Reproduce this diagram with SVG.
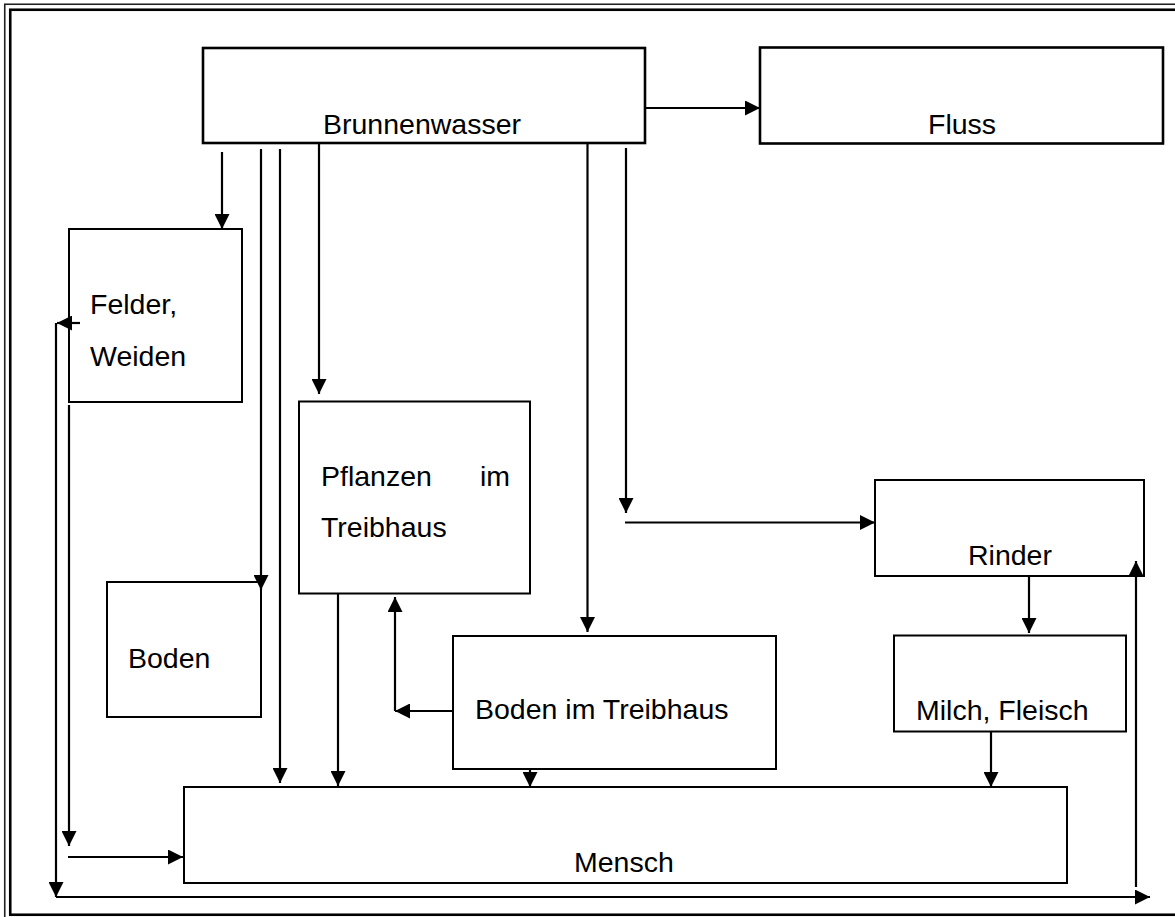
<svg xmlns="http://www.w3.org/2000/svg" width="1175" height="917" viewBox="0 0 1175 917">
<style>
.box{fill:#fff;stroke:#000;stroke-width:2}
.box2{fill:#fff;stroke:#000;stroke-width:2.6}
.t{font-family:"Liberation Sans",Arial,sans-serif;font-size:28.5px;fill:#000}
.c{fill:none;stroke:#000;stroke-width:2.2}
.a{marker-end:url(#ah)}
</style>
<defs>
<marker id="ah" markerUnits="userSpaceOnUse" markerWidth="15" markerHeight="15" viewBox="0 0 15 15" refX="15" refY="7.5" orient="auto">
<path d="M0,0 L15,7.5 L0,15 z" fill="#000"/>
</marker>
</defs>
<rect x="0" y="0" width="1175" height="917" fill="#fff"/>
<g id="frame">
<rect x="4.75" y="4.25" width="1180" height="920" fill="none" stroke="#222" stroke-width="1.6"/>
<rect x="10.25" y="9.75" width="1180" height="905" fill="none" stroke="#000" stroke-width="2.6"/>
</g>
<g id="brunnenwasser">
<rect class="box2" x="203" y="48" width="442" height="95"/>
<text class="t" x="323" y="134">Brunnenwasser</text>
</g>
<g id="fluss">
<rect class="box2" x="760" y="47.5" width="403" height="96"/>
<text class="t" x="928" y="134">Fluss</text>
</g>
<g id="felder">
<rect class="box" x="69" y="229" width="173" height="173"/>
<text class="t" x="90" y="314">Felder,</text>
<text class="t" x="90" y="366">Weiden</text>
</g>
<g id="boden">
<rect class="box" x="107" y="582" width="154" height="135"/>
<text class="t" x="128" y="668">Boden</text>
</g>
<g id="pflanzen">
<rect class="box" x="299" y="401.5" width="231" height="192"/>
<text class="t" x="321" y="486">Pflanzen</text>
<text class="t" x="480" y="486">im</text>
<text class="t" x="321" y="537">Treibhaus</text>
</g>
<g id="bodentreibhaus">
<rect class="box" x="453" y="636" width="323" height="133"/>
<text class="t" x="475" y="719">Boden im Treibhaus</text>
</g>
<g id="rinder">
<rect class="box" x="875" y="480" width="269" height="96"/>
<text class="t" x="968" y="565">Rinder</text>
</g>
<g id="milch">
<rect class="box" x="894" y="635.5" width="232" height="96"/>
<text class="t" x="916" y="720">Milch, Fleisch</text>
</g>
<g id="mensch">
<rect class="box" x="184" y="787" width="883" height="96"/>
<text class="t" x="574" y="872">Mensch</text>
</g>
<g id="connectors">
<path class="c a" d="M645,108 H760"/>
<path class="c a" d="M222,152 V229"/>
<path class="c a" d="M261,149 V590"/>
<path class="c a" d="M280,149 V783"/>
<path class="c a" d="M319,143 V394"/>
<path class="c a" d="M587.5,143 V632"/>
<path class="c a" d="M626,148 V513"/>
<path class="c a" d="M625,522.5 H875"/>
<path class="c a" d="M1029,576 V633"/>
<path class="c a" d="M991,732 V787"/>
<path class="c a" d="M338,593 V786"/>
<path class="c a" d="M453,711 H395"/>
<path class="c a" d="M395,711 V597"/>
<path class="c a" d="M530,769 V787"/>
<path class="c a" d="M69,405 V846"/>
<path class="c a" d="M68,857 H183"/>
<path class="c a" d="M80,323 H57"/>
<path class="c a" d="M56,323 V897"/>
<path class="c a" d="M56,897 H1150"/>
<path class="c a" d="M1136,887 V561"/>
</g>
</svg>
